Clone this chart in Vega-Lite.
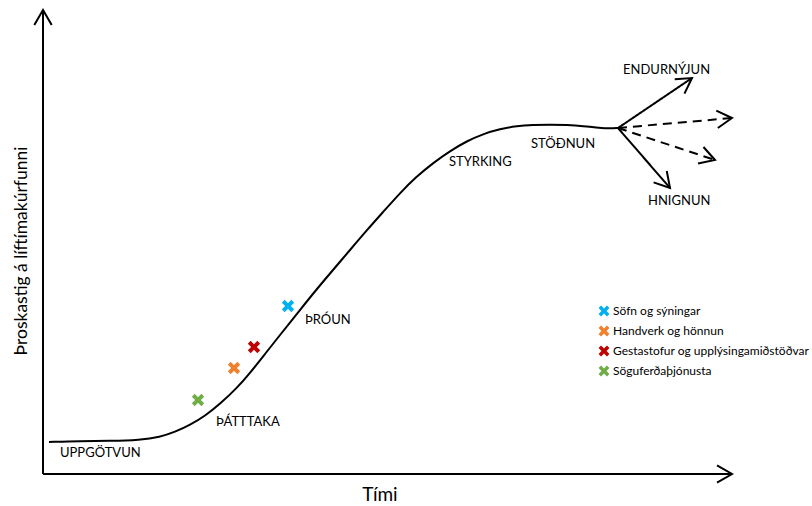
{
  "$schema": "https://vega.github.io/schema/vega-lite/v6.json",
  "width": 812,
  "height": 506,
  "padding": 0,
  "autosize": {"type": "fit", "contains": "padding"},
  "config": {"view": {"stroke": null}, "font": "Lato"},
  "datasets": {
    "segments": [
      {"id": "yaxis", "style": "solid", "x": 43, "y": 32, "x2": 43, "y2": 496},
      {"id": "xaxis", "style": "solid", "x": 43, "y": 32, "x2": 732, "y2": 32},
      {"id": "endurnyjun", "style": "solid", "x": 618, "y": 378, "x2": 692, "y2": 428},
      {"id": "dash1", "style": "dashed", "x": 618, "y": 378, "x2": 732, "y2": 388},
      {"id": "dash2", "style": "dashed", "x": 618, "y": 378, "x2": 715, "y2": 346},
      {"id": "hnignun", "style": "solid", "x": 618, "y": 378, "x2": 670, "y2": 318}
    ],
    "curve": [
      {"i": 1, "x": 49, "y": 64},
      {"i": 2, "x": 80, "y": 65},
      {"i": 3, "x": 110, "y": 65},
      {"i": 4, "x": 140, "y": 66},
      {"i": 5, "x": 160, "y": 69},
      {"i": 6, "x": 175, "y": 74},
      {"i": 7, "x": 190, "y": 81},
      {"i": 8, "x": 205, "y": 90},
      {"i": 9, "x": 220, "y": 102},
      {"i": 10, "x": 237, "y": 118},
      {"i": 11, "x": 250, "y": 133},
      {"i": 12, "x": 265, "y": 152},
      {"i": 13, "x": 280, "y": 171},
      {"i": 14, "x": 300, "y": 196},
      {"i": 15, "x": 316, "y": 216},
      {"i": 16, "x": 333, "y": 236},
      {"i": 17, "x": 350, "y": 256},
      {"i": 18, "x": 367, "y": 276},
      {"i": 19, "x": 384, "y": 295},
      {"i": 20, "x": 400, "y": 313},
      {"i": 21, "x": 416, "y": 329},
      {"i": 22, "x": 433, "y": 343},
      {"i": 23, "x": 450, "y": 355},
      {"i": 24, "x": 467, "y": 365},
      {"i": 25, "x": 483, "y": 372},
      {"i": 26, "x": 500, "y": 377},
      {"i": 27, "x": 517, "y": 380},
      {"i": 28, "x": 533, "y": 381},
      {"i": 29, "x": 550, "y": 381.5},
      {"i": 30, "x": 567, "y": 381},
      {"i": 31, "x": 583, "y": 380},
      {"i": 32, "x": 600, "y": 378},
      {"i": 33, "x": 610, "y": 377.5},
      {"i": 34, "x": 618, "y": 378}
    ],
    "markers": [
      {"category": "Söfn og sýningar", "x": 288, "y": 200},
      {"category": "Handverk og hönnun", "x": 234, "y": 138},
      {"category": "Gestastofur og upplýsingamiðstöðvar", "x": 254, "y": 159},
      {"category": "Söguferðaþjónusta", "x": 198, "y": 106}
    ],
    "labels": [
      {"label": "UPPGÖTVUN", "x": 60, "y": 53},
      {"label": "ÞÁTTTAKA", "x": 216, "y": 84},
      {"label": "ÞRÓUN", "x": 305, "y": 186},
      {"label": "STYRKING", "x": 449, "y": 344},
      {"label": "STÖÐNUN", "x": 531, "y": 362},
      {"label": "ENDURNÝJUN", "x": 623, "y": 436},
      {"label": "HNIGNUN", "x": 648, "y": 305}
    ]
  },
  "layer": [
    {
      "data": {"name": "segments"},
      "mark": {"type": "rule", "strokeWidth": 2, "color": "black", "strokeCap": "butt"},
      "encoding": {
        "x": {"field": "x", "type": "quantitative", "scale": {"domain": [0, 812], "nice": false, "zero": false}, "axis": null},
        "y": {"field": "y", "type": "quantitative", "scale": {"domain": [0, 506], "nice": false, "zero": false}, "axis": null},
        "x2": {"field": "x2"},
        "y2": {"field": "y2"},
        "strokeDash": {"field": "style", "type": "nominal", "scale": {"domain": ["solid", "dashed"], "range": [[1, 0], [9, 6]]}, "legend": null}
      }
    },
    {
      "data": {"name": "segments"},
      "transform": [
        {"calculate": "atan2(-(datum.y2 - datum.y), datum.x2 - datum.x) * 180 / PI", "as": "heading"}
      ],
      "mark": {"type": "point", "filled": false, "stroke": "black", "strokeWidth": 2, "size": 900, "opacity": 1,
        "shape": "M-1,-0.58L0,0L-1,0.58", "strokeJoin": "miter"},
      "encoding": {
        "x": {"field": "x2", "type": "quantitative"},
        "y": {"field": "y2", "type": "quantitative"},
        "angle": {"field": "heading", "type": "quantitative", "scale": null}
      }
    },
    {
      "data": {"name": "curve"},
      "mark": {"type": "line", "color": "black", "strokeWidth": 2, "interpolate": "basis"},
      "encoding": {
        "x": {"field": "x", "type": "quantitative"},
        "y": {"field": "y", "type": "quantitative"},
        "order": {"field": "i", "type": "quantitative"}
      }
    },
    {
      "data": {"name": "markers"},
      "mark": {"type": "point", "filled": true, "opacity": 1, "size": 180,
        "shape": "M0.495,-0.919L0.919,-0.495L0.424,0L0.919,0.495L0.495,0.919L0,0.424L-0.495,0.919L-0.919,0.495L-0.424,0L-0.919,-0.495L-0.495,-0.919L0,-0.424Z"},
      "encoding": {
        "x": {"field": "x", "type": "quantitative"},
        "y": {"field": "y", "type": "quantitative"},
        "color": {
          "field": "category", "type": "nominal",
          "scale": {
            "domain": ["Söfn og sýningar", "Handverk og hönnun", "Gestastofur og upplýsingamiðstöðvar", "Söguferðaþjónusta"],
            "range": ["#00B0F0", "#F0802C", "#C00000", "#70AD47"]
          },
          "legend": {
            "orient": "none", "legendX": 598, "legendY": 305, "title": null, "padding": 0,
            "symbolType": "M0.495,-0.919L0.919,-0.495L0.424,0L0.919,0.495L0.495,0.919L0,0.424L-0.495,0.919L-0.919,0.495L-0.424,0L-0.919,-0.495L-0.495,-0.919L0,-0.424Z",
            "symbolSize": 140, "symbolStrokeWidth": 0, "symbolOpacity": 1,
            "labelFont": "Lato", "labelFontSize": 12, "labelColor": "black", "labelOffset": 3,
            "rowPadding": 8, "labelLimit": 300
          }
        }
      }
    },
    {
      "data": {"name": "labels"},
      "mark": {"type": "text", "align": "left", "baseline": "middle", "fontSize": 13, "font": "Lato", "color": "black"},
      "encoding": {
        "x": {"field": "x", "type": "quantitative"},
        "y": {"field": "y", "type": "quantitative"},
        "text": {"field": "label"}
      }
    },
    {
      "data": {"values": [{"label": "Tími", "x": 380, "y": 11}]},
      "mark": {"type": "text", "align": "center", "baseline": "middle", "fontSize": 19, "font": "Lato", "color": "black"},
      "encoding": {
        "x": {"field": "x", "type": "quantitative"},
        "y": {"field": "y", "type": "quantitative"},
        "text": {"field": "label"}
      }
    },
    {
      "data": {"values": [{"label": "Þroskastig á líftímakúrfunni", "x": 22, "y": 255}]},
      "mark": {"type": "text", "align": "center", "baseline": "middle", "fontSize": 17.5, "font": "Lato", "color": "black", "angle": 270},
      "encoding": {
        "x": {"field": "x", "type": "quantitative"},
        "y": {"field": "y", "type": "quantitative"},
        "text": {"field": "label"}
      }
    }
  ]
}
